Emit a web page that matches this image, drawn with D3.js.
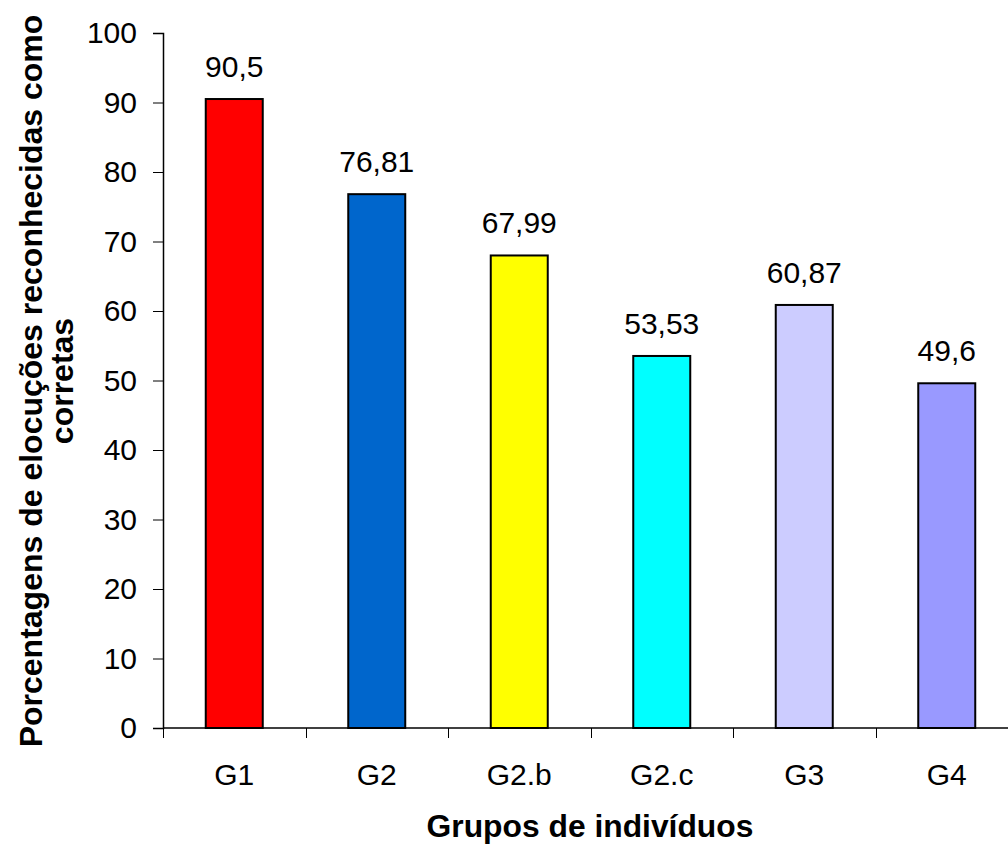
<!DOCTYPE html>
<html>
<head>
<meta charset="utf-8">
<script src="https://cdn.jsdelivr.net/npm/d3@7"></script>
<style>
  body { margin: 0; background: #fff; }
  text { font-family: "Liberation Sans", Arial, sans-serif; }
</style>
</head>
<body>
<script>
// chart data
const groups = ['G1', 'G2', 'G2.b', 'G2.c', 'G3', 'G4'];
const values = [90.5, 76.81, 67.99, 53.53, 60.87, 49.6];
const barColors = ['#FF0000', '#0066CC', '#FFFF00', '#00FFFF', '#CCCCFF', '#9999FF'];
const yTicks = [0, 10, 20, 30, 40, 50, 60, 70, 80, 90, 100];

const width = 1008;
const height = 844;

const svg = d3.select('body').append('svg')
  .attr('width', width)
  .attr('height', height);

const x = d3.scaleBand()
  .domain(groups)
  .range([163, 163 + 6 * 142.5])
  .paddingInner(0.6)
  .paddingOuter(0.3);

const y = d3.scaleLinear()
  .domain([0, 100])
  .range([728, 33]);

// y axis
const yAxis = svg.append('g')
  .attr('transform', 'translate(163,0)')
  .call(d3.axisLeft(y).tickValues(yTicks).tickSize(10).tickPadding(16));
yAxis.select('.domain').attr('stroke', '#000').attr('stroke-width', 1.5);
yAxis.selectAll('.tick line').attr('stroke', '#000');
yAxis.selectAll('text')
  .attr('font-size', 30)
  .attr('fill', '#000')
  .style('font-family', '"Liberation Sans", Arial, sans-serif');

// x axis: ticks on band edges
const xAxis = svg.append('g')
  .attr('transform', 'translate(0,728)');
xAxis.append('line')
  .attr('x1', 163).attr('x2', width)
  .attr('stroke', '#000').attr('stroke-width', 1.5);
const edges = groups.map(g => x(g) - x.step() * x.paddingInner() / 2);
xAxis.selectAll('.xtick')
  .data(edges)
  .enter().append('line')
  .attr('class', 'xtick')
  .attr('x1', d => Math.round(d) + 0.5).attr('x2', d => Math.round(d) + 0.5)
  .attr('y1', 0).attr('y2', 10)
  .attr('stroke', '#000');
xAxis.selectAll('.xlabel')
  .data(groups)
  .enter().append('text')
  .attr('class', 'xlabel')
  .attr('x', d => x(d) + x.bandwidth() / 2)
  .attr('y', 57)
  .attr('text-anchor', 'middle')
  .attr('font-size', 30)
  .text(d => d);

// bars
svg.selectAll('.bar')
  .data(groups)
  .enter().append('rect')
  .attr('class', 'bar')
  .attr('x', d => x(d))
  .attr('width', x.bandwidth())
  .attr('y', (d, i) => y(values[i]))
  .attr('height', (d, i) => y(0) - y(values[i]))
  .attr('fill', (d, i) => barColors[i])
  .attr('stroke', '#000')
  .attr('stroke-width', 2);

// value labels
svg.selectAll('.value')
  .data(groups)
  .enter().append('text')
  .attr('class', 'value')
  .attr('x', d => x(d) + x.bandwidth() / 2)
  .attr('y', (d, i) => y(values[i]) - 22)
  .attr('text-anchor', 'middle')
  .attr('font-size', 30)
  .text((d, i) => String(values[i]).replace('.', ','));

// axis titles
svg.append('text')
  .attr('x', 590)
  .attr('y', 837)
  .attr('text-anchor', 'middle')
  .attr('font-size', 31.8)
  .attr('font-weight', 'bold')
  .text('Grupos de indivíduos');

const yTitle = svg.append('text')
  .attr('transform', 'translate(42,381) rotate(-90)')
  .attr('text-anchor', 'middle')
  .attr('font-size', 32)
  .attr('font-weight', 'bold');
yTitle.append('tspan').attr('x', 0).attr('dy', 0).text('Porcentagens de elocuções reconhecidas como');
yTitle.append('tspan').attr('x', 0).attr('dy', 31).text('corretas');
</script>
</body>
</html>
